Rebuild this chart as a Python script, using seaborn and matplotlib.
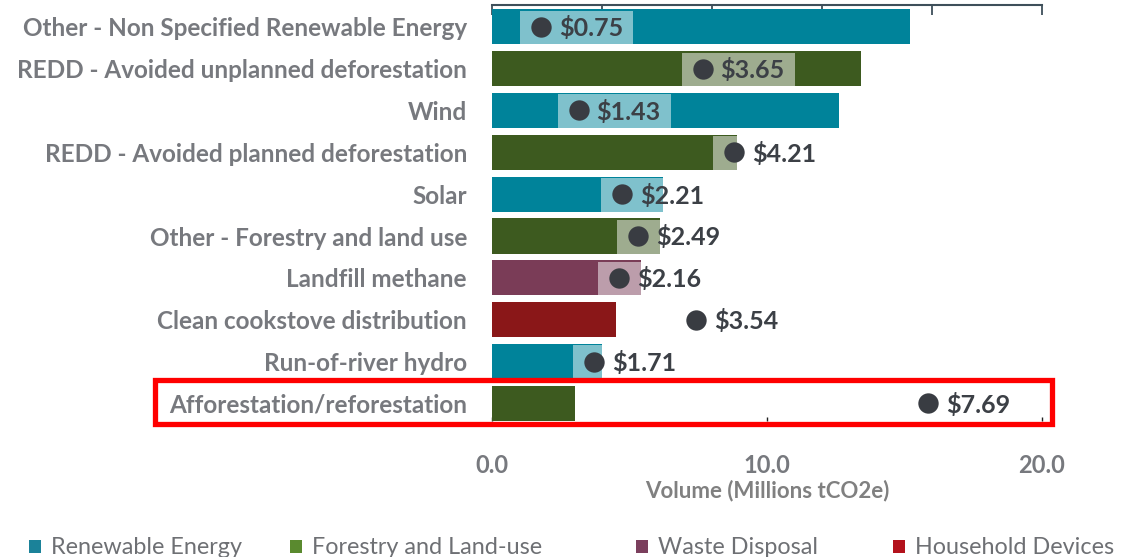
import matplotlib
matplotlib.use("Agg")
import matplotlib.pyplot as plt
from matplotlib.path import Path
from matplotlib.patches import Rectangle
import matplotlib.transforms as mtransforms
import numpy as np
import pandas as pd
import seaborn as sns

# ---- data -------------------------------------------------------------
categories = [
    "Other - Non Specified Renewable Energy",
    "REDD - Avoided unplanned deforestation",
    "Wind",
    "REDD - Avoided planned deforestation",
    "Solar",
    "Other - Forestry and land use",
    "Landfill methane",
    "Clean cookstove distribution",
    "Run-of-river hydro",
    "Afforestation/reforestation",
]
sectors = [
    "Renewable Energy",
    "Forestry and Land-use",
    "Renewable Energy",
    "Forestry and Land-use",
    "Renewable Energy",
    "Forestry and Land-use",
    "Waste Disposal",
    "Household Devices",
    "Renewable Energy",
    "Forestry and Land-use",
]
volume = [15.2, 13.4, 12.6, 8.9, 6.2, 6.1, 5.4, 4.5, 4.0, 3.0]   # Millions tCO2e
price = [0.75, 3.65, 1.43, 4.21, 2.21, 2.49, 2.16, 3.54, 1.71, 7.69]  # USD / tCO2e
highlight = "Afforestation/reforestation"

legend_sectors = ["Renewable Energy", "Forestry and Land-use",
                  "Waste Disposal", "Household Devices"]
bar_colors = {
    "Renewable Energy": "#00839a",
    "Forestry and Land-use": "#3d5a1f",
    "Waste Disposal": "#7a3c57",
    "Household Devices": "#8a1718",
}
legend_colors = {
    "Renewable Energy": "#1b8299",
    "Forestry and Land-use": "#5a8a2f",
    "Waste Disposal": "#7b3f5d",
    "Household Devices": "#b3121c",
}

df = pd.DataFrame({"category": categories, "sector": sectors,
                   "volume": volume, "price": price})

# ---- style ------------------------------------------------------------
sns.set_style("white")
plt.rcParams["font.family"] = ["Lato", "DejaVu Sans"]

LABEL_GREY = "#77797e"
VALUE_GREY = "#3c4046"
SPINE = "#3e4f5a"

fig = plt.figure(figsize=(11.27, 5.57), dpi=100)
ax = fig.add_axes([492 / 1127, 1 - 421 / 557, 550 / 1127, 416 / 557])

sns.barplot(data=df, y="category", x="volume", hue="sector",
            order=categories, palette=bar_colors, dodge=False,
            width=0.84, saturation=1, errorbar=None, legend=False,
            linewidth=0, ax=ax)

ax.set_xlim(0, 20)
ax.set_ylim(9.42, -0.52)
ax.set_ylabel("")
ax.set_xlabel("Volume (Millions tCO2e)", fontsize=16, color="#808080",
              fontweight="bold", labelpad=2)
ax.set_xticks([0, 10, 20])
ax.set_xticklabels(["0.0", "10.0", "20.0"])
ax.tick_params(axis="x", direction="in", length=3, width=1, color="#222222",
               labelsize=17, labelcolor="#77797e", pad=24)
ax.tick_params(axis="y", length=0, pad=18, labelsize=17.5, labelcolor=LABEL_GREY)
for lab in ax.get_yticklabels():
    lab.set_fontweight("bold")
for lab in ax.get_xticklabels():
    lab.set_fontweight("bold")

for side in ["left", "right", "bottom", "top"]:
    ax.spines[side].set_visible(False)

# top scale line with inward ticks
top = ax.secondary_xaxis("top")
top.set_xticks([0, 4, 8, 12, 16, 20])
top.set_xticklabels([])
top.tick_params(direction="in", length=7, width=1.3, color=SPINE)
top.spines["top"].set_color(SPINE)
top.spines["top"].set_linewidth(1.5)

# ---- price markers on their own scale ---------------------------------
axp = ax.twiny()
axp.set_xlim(-0.12, 9.73)
axp.set_ylim(ax.get_ylim())
axp.axis("off")


def tag_box(x0, y0, width, height, mutation_size):
    """Label background that also reaches back over the price dot."""
    cy = y0 + height / 2
    left, right = x0 - 39, x0 + width + 10
    lo, hi = cy - 17.5, cy + 17.5
    return Path([(left, lo), (right, lo), (right, hi), (left, hi), (left, lo)],
                closed=True)


rows = np.arange(len(categories))
axp.scatter(price, rows, s=215, color="#393c42", zorder=5, linewidths=0)
for p, r in zip(price, rows):
    axp.annotate(f"${p:.2f}", xy=(p, r), xytext=(13, -1),
                 textcoords="offset points", ha="left", va="center",
                 fontsize=18, fontweight="bold", color=VALUE_GREY,
                 zorder=4,
                 bbox=dict(boxstyle=tag_box, fc="white", ec="none", alpha=0.5))

# ---- highlight frame around one row -----------------------------------
hi_row = categories.index(highlight)
frame_tr = mtransforms.blended_transform_factory(fig.transFigure, ax.transData)
fig.patches.append(Rectangle((155 / 1127, hi_row - 0.57), (1052 - 155) / 1127, 1.07,
                             transform=frame_tr, fill=False, ec="#ff0000",
                             lw=3.8, zorder=10))

# ---- legend ------------------------------------------------------------
leg_x = [29, 290, 636, 893]
for name, x in zip(legend_sectors, leg_x):
    fig.patches.append(Rectangle((x / 1127, 1 - 553 / 557), 12 / 1127, 13 / 557,
                                 transform=fig.transFigure,
                                 color=legend_colors[name], lw=0))
    fig.text((x + 22) / 1127, 1 - 554 / 557, name, fontsize=16.8,
             color="#6e7074", ha="left", va="baseline")

fig.savefig("out.png", dpi=100)
